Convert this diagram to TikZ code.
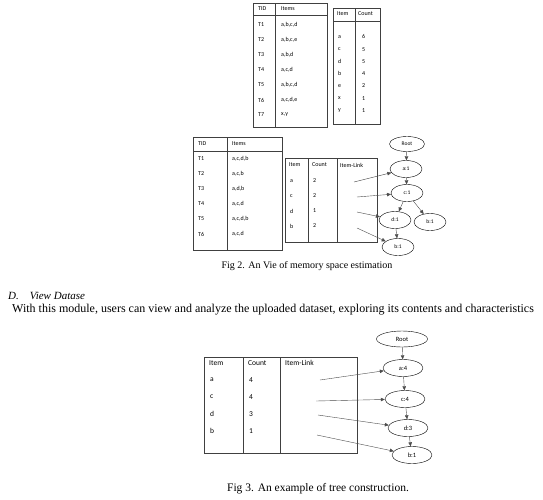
\documentclass[tikz,border=0pt]{standalone}
\usepackage{fontspec}
\setmainfont{Liberation Serif}
\newfontfamily\tabfont{Carlito}
\usetikzlibrary{positioning, arrows.meta, shapes}

\begin{document}
\begin{tikzpicture}[
    x=1pt, y=-1pt,
    % Define specific styles to match the drawing
    cell/.style={
        anchor=west,
        font=\tabfont\fontsize{6}{7}\selectfont,
        inner sep=0pt
    },
    bigcell/.style={
        anchor=west,
        font=\tabfont\fontsize{7.5}{9}\selectfont,
        inner sep=0pt
    },
    frame/.style={
        draw=black!75,
        line width=0.8pt
    },
    rule/.style={
        draw=black!75,
        line width=0.6pt
    },
    treenode/.style={
        ellipse,
        draw=black,
        thin,
        font=\tabfont\fontsize{5.5}{6}\selectfont,
        minimum width=32pt,
        minimum height=17pt,
        inner sep=0pt
    },
    bignode/.style={
        treenode,
        font=\tabfont\fontsize{6.5}{7}\selectfont,
        minimum width=40pt
    },
    link/.style={
        draw=black!70,
        thin,
        -{Triangle[length=4pt, width=3.5pt]}
    },
    caption/.style={
        font=\fontsize{10}{12}\selectfont,
        inner sep=0pt
    }
]
    \useasboundingbox (0,0) rectangle (543,499);

    % --- Fig 2, upper left: transactions ---
    \draw[frame] (253,3) rectangle (327,127);
    \draw[rule] (253,15) -- (327,15);
    \draw[rule] (275,3) -- (275,127);
    \node[cell] (tidA) at (258,9) {TID};
    \node[cell] (itemsA) at (281,9) {Items};
    \foreach \t/\s [count=\i] in {T1/{a,b,c,d}, T2/{a,b,c,e}, T3/{a,b,d}, T4/{a,c,d},
                                  T5/{a,b,c,d}, T6/{a,c,d,e}, T7/{x,y}} {
        \node[cell] (tA\i) at (258,{10+15*\i}) {\t};
        \node[cell] (sA\i) at (281,{10+15*\i}) {\s};
    }

    % --- Fig 2, upper right: item counts ---
    \draw[frame] (333,8) rectangle (380,124);
    \draw[rule] (333,21) -- (380,21);
    \draw[rule] (355,8) -- (355,124);
    \node[cell] (itemB) at (337,14) {Item};
    \node[cell] (countB) at (358,14) {Count};
    \foreach \a/\n [count=\i] in {a/6, c/5, d/5, b/4, e/2, x/1, y/1} {
        \node[cell] (iB\i) at (338,{24.5+12.3*\i}) {\a};
        \node[cell] (nB\i) at (362,{24.5+12.3*\i}) {\n};
    }

    % --- Fig 2, lower left: ordered transactions ---
    \draw[frame] (193,137) rectangle (282,250);
    \draw[rule] (193,151) -- (282,151);
    \draw[rule] (227,137) -- (227,250);
    \node[cell] (tidC) at (198,144) {TID};
    \node[cell] (itemsC) at (232,144) {Items};
    \foreach \t/\s [count=\i] in {T1/{a,c,d,b}, T2/{a,c,b}, T3/{a,d,b}, T4/{a,c,d},
                                  T5/{a,c,d,b}, T6/{a,c,d}} {
        \node[cell] (tC\i) at (198,{144+15*\i}) {\t};
        \node[cell] (sC\i) at (232,{144+15*\i}) {\s};
    }

    % --- Fig 2, header table ---
    \draw[frame] (285,158) rectangle (377,242);
    \draw[rule] (308,158) -- (308,242);
    \draw[rule] (337,158) -- (337,242);
    \node[cell] (itemD) at (289,165) {Item};
    \node[cell] (countD) at (312,165) {Count};
    \node[cell] (linkD) at (340,165) {Item-Link};
    \foreach \a/\n [count=\i] in {a/2, c/2, d/1, b/2} {
        \node[cell] (iD\i) at (290,{166+15*\i}) {\a};
        \node[cell] (nD\i) at (313,{166+15*\i}) {\n};
    }

    % --- Fig 2, tree ---
    \node[treenode, minimum width=35pt, minimum height=15pt] (rootA) at (407,144) {Root};
    \node[treenode] (a1) at (406,169) {a:1};
    \node[treenode] (c1) at (407,193) {c:1};
    \node[treenode] (d1) at (395,220) {d:1};
    \node[treenode] (b1r) at (430,222) {b:1};
    \node[treenode] (b1) at (398,247) {b:1};

    \draw[link] (rootA) -- (a1);
    \draw[link] (a1) -- (c1);
    \draw[link] (c1) -- (d1);
    \draw[link] (c1) -- (b1r);
    \draw[link] (d1) -- (b1);

    \coordinate (la) at (354,182);
    \coordinate (lc) at (357,197);
    \coordinate (ld) at (357,212);
    \coordinate (lb) at (357,228);
    \draw[link] (la) -- (a1);
    \draw[link] (lc) -- (c1);
    \draw[link] (ld) -- (d1);
    \draw[link] (lb) -- (b1);

    % --- Captions and text ---
    \node[caption] (figtwo) at (307,266) {Fig 2. An Vie of memory space estimation};
    \node[caption, anchor=west, font=\fontsize{11}{13}\selectfont] (secD) at (8,296)
        {\textit{D.\quad View Datase}};
    \node[caption, anchor=west, font=\fontsize{12}{14}\selectfont] (body) at (12,310)
        {With this module, users can view and analyze the uploaded dataset, exploring its contents and characteristics};

    % --- Fig 3, header table ---
    \draw[frame] (204,357) rectangle (357,453);
    \draw[rule] (243,357) -- (243,453);
    \draw[rule] (280,357) -- (280,453);
    \node[bigcell] (itemE) at (209,363) {Item};
    \node[bigcell] (countE) at (248,363) {Count};
    \node[bigcell] (linkE) at (285,363) {Item-Link};
    \foreach \a/\n [count=\i] in {a/4, c/4, d/3, b/1} {
        \node[bigcell] (iE\i) at (210,{363+17*\i}) {\a};
        \node[bigcell] (nE\i) at (249,{363+17*\i}) {\n};
    }

    % --- Fig 3, tree ---
    \node[bignode, minimum width=51pt, minimum height=16pt] (rootB) at (402,339) {Root};
    \node[bignode] (a4) at (403,368) {a:4};
    \node[bignode] (c4) at (405,399) {c:4};
    \node[bignode] (d3) at (408,428) {d:3};
    \node[bignode] (b1b) at (412,455) {b:1};

    \draw[link] (rootB) -- (a4);
    \draw[link] (a4) -- (c4);
    \draw[link] (c4) -- (d3);
    \draw[link] (d3) -- (b1b);

    \coordinate (ma) at (320,380);
    \coordinate (mc) at (316,401);
    \coordinate (md) at (318,415);
    \coordinate (mb) at (317,435);
    \draw[link] (ma) -- (a4);
    \draw[link] (mc) -- (c4);
    \draw[link] (md) -- (d3);
    \draw[link] (mb) -- (b1b);

    \node[caption, font=\fontsize{11.5}{14}\selectfont] (figthree) at (318,489)
        {Fig 3. An example of tree construction.};

\end{tikzpicture}
\end{document}
